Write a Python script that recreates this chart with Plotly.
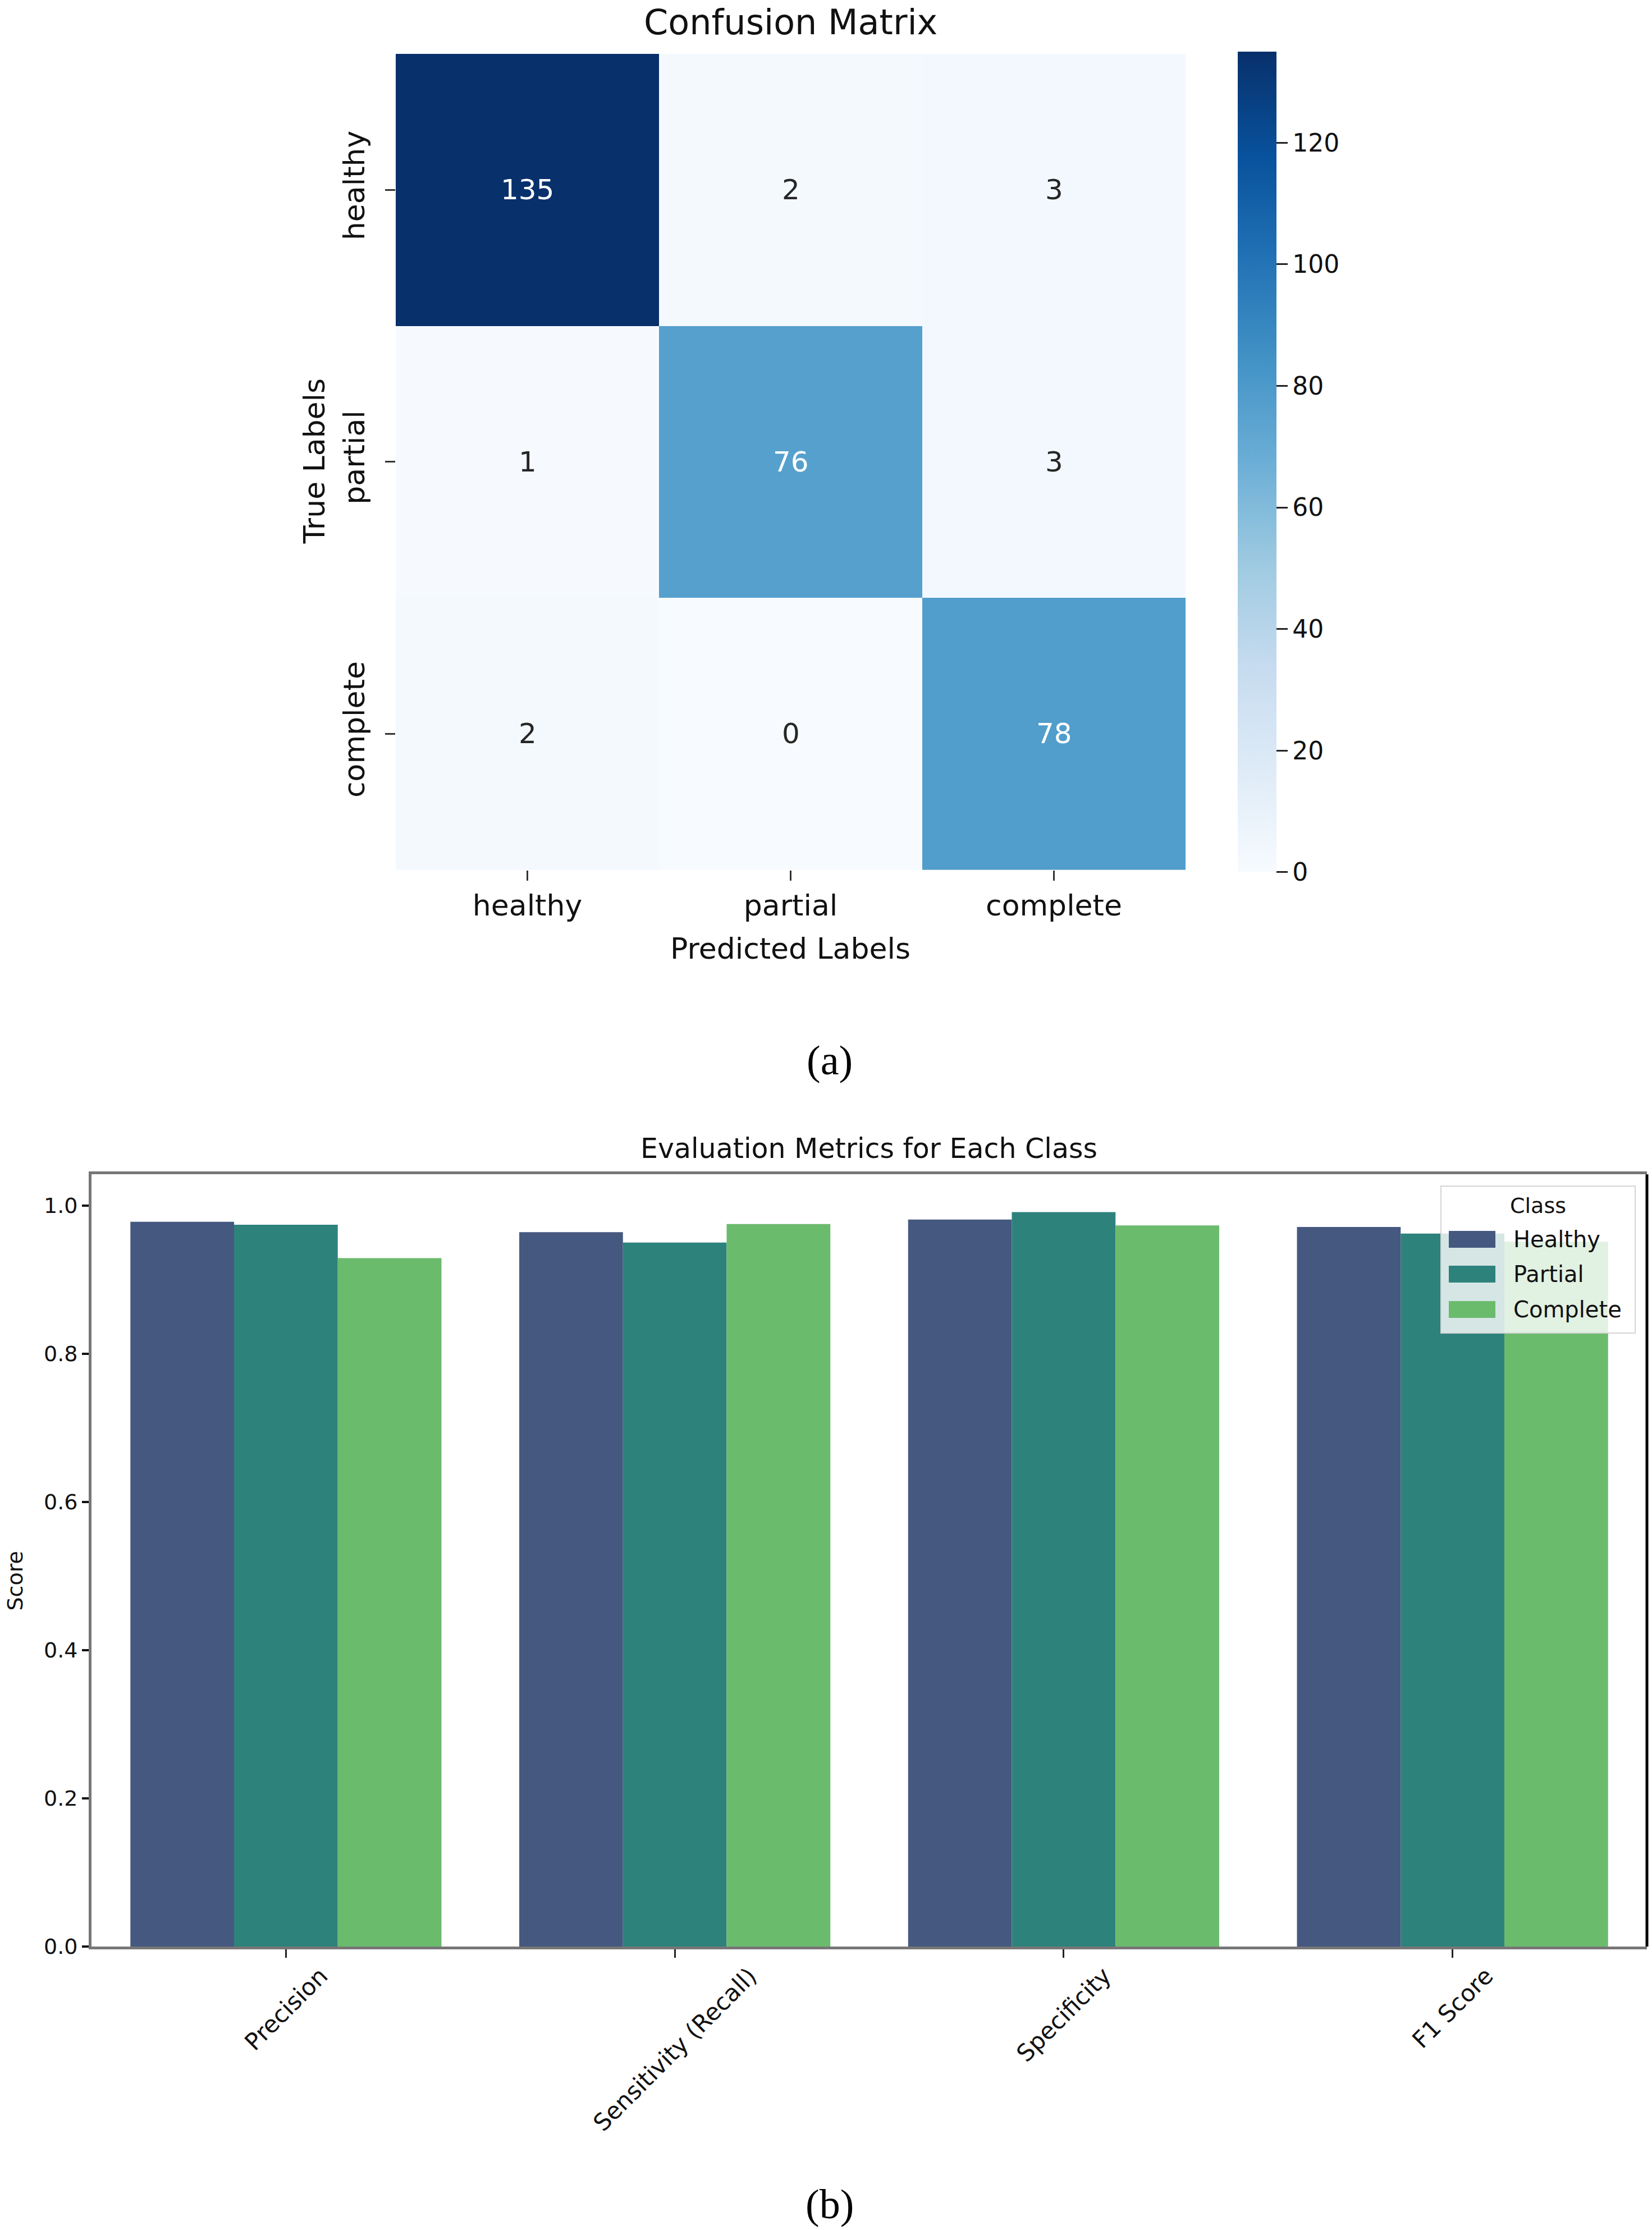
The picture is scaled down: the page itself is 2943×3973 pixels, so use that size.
import plotly.graph_objects as go

# ---------------- data ----------------
cm_labels = ["healthy", "partial", "complete"]
cm_values = [
    [135, 2, 3],
    [1, 76, 3],
    [2, 0, 78],
]
cbar_ticks = [0, 20, 40, 60, 80, 100, 120]

metrics = ["Precision", "Sensitivity (Recall)", "Specificity", "F1 Score"]
class_names = ["Healthy", "Partial", "Complete"]
healthy_scores = [0.978, 0.964, 0.981, 0.971]
partial_scores = [0.974, 0.950, 0.991, 0.962]
complete_scores = [0.929, 0.975, 0.973, 0.951]
score_ticks = [0.0, 0.2, 0.4, 0.6, 0.8, 1.0]

# ---------------- layout helpers ----------------
W, H = 2943, 3973
K = 1.0047  # small vertical calibration
def px(x):
    return x / W
def py(y):
    return 1 - (y * K) / H

FONT = "DejaVu Sans"
bar_colors = ["#455880", "#2e827c", "#6bbb6d"]

fig = go.Figure()

# ---- (a) confusion matrix ----
zmax = 135
fig.add_trace(go.Heatmap(
    z=cm_values, x=cm_labels, y=cm_labels,
    colorscale="Blues", zmin=0, zmax=zmax,
    xaxis="x", yaxis="y", showscale=True, hoverinfo="skip",
    colorbar=dict(
        x=px(2205), xanchor="left", xpad=0,
        y=py(823.5), yanchor="middle", len=1455 * K, lenmode="pixels",
        thickness=69, thicknessmode="pixels", outlinewidth=0,
        tickvals=cbar_ticks, ticks="outside", ticklen=20, tickwidth=3,
        tickcolor="#222", tickfont=dict(family=FONT, size=44, color="#111"),
        ypad=0,
    ),
))

annotations = []
shapes = []
for i, row_lab in enumerate(cm_labels):
    for j, col_lab in enumerate(cm_labels):
        v = cm_values[i][j]
        annotations.append(dict(
            x=col_lab, y=row_lab, xref="x", yref="y", text=str(v),
            showarrow=False,
            font=dict(family=FONT, size=50,
                      color="white" if v > 0.4 * zmax else "#262626"),
        ))

# ---- (b) grouped bars ----
for name, vals, col in zip(class_names,
                           [healthy_scores, partial_scores, complete_scores],
                           bar_colors):
    fig.add_trace(go.Bar(
        x=metrics, y=vals, name=name, marker=dict(color=col, line=dict(width=0)),
        xaxis="x2", yaxis="y2", showlegend=False,
    ))

for m in metrics:
    annotations.append(dict(
        x=m, xref="x2", y=py(3496), yref="paper", text=m, showarrow=False,
        textangle=-45, xanchor="center", yanchor="top",
        font=dict(family=FONT, size=42, color="#111"),
    ))

# ---- legend (drawn, with large swatches like the original) ----
leg_x0, leg_x1, leg_y0, leg_y1 = 2567, 2913, 2115, 2377
shapes.append(dict(type="rect", xref="paper", yref="paper",
                   x0=px(leg_x0), x1=px(leg_x1), y0=py(leg_y1), y1=py(leg_y0),
                   fillcolor="rgba(255,255,255,0.8)",
                   line=dict(color="#d4d4d4", width=2), layer="above"))
annotations.append(dict(x=px(2740), y=py(2150), xref="paper", yref="paper",
                        text="Class", showarrow=False, xanchor="center",
                        yanchor="middle",
                        font=dict(family=FONT, size=38, color="#111")))
entry_y = [2210, 2272, 2335]
for name, col, ey in zip(class_names, bar_colors, entry_y):
    shapes.append(dict(type="rect", xref="paper", yref="paper",
                       x0=px(2581), x1=px(2664), y0=py(ey + 15), y1=py(ey - 15),
                       fillcolor=col, line=dict(width=0), layer="above"))
    annotations.append(dict(x=px(2694), y=py(ey), xref="paper", yref="paper",
                            text=name, showarrow=False, xanchor="left",
                            yanchor="middle",
                            font=dict(family=FONT, size=40, color="#111")))

# right frame edge (black in the original)
shapes.append(dict(type="line", xref="x2 domain", yref="y2 domain",
                   x0=1, x1=1, y0=0, y1=1, line=dict(color="#000", width=5)))

# titles / captions
annotations += [
    dict(x=px(1408), y=py(40), xref="paper", yref="paper", text="Confusion Matrix",
         showarrow=False, xanchor="center", yanchor="middle",
         font=dict(family=FONT, size=62, color="#111")),
    dict(x=px(1408), y=py(1691), xref="paper", yref="paper", text="Predicted Labels",
         showarrow=False, xanchor="center", yanchor="middle",
         font=dict(family=FONT, size=52, color="#111")),
    dict(x=px(560), y=py(823), xref="paper", yref="paper", text="True Labels",
         showarrow=False, xanchor="center", yanchor="middle", textangle=-90,
         font=dict(family=FONT, size=52, color="#111")),
    dict(x=px(1478), y=py(1891), xref="paper", yref="paper", text="(a)",
         showarrow=False, xanchor="center", yanchor="middle",
         font=dict(family="Liberation Serif", size=74, color="#000")),
    dict(x=px(1548), y=py(2048), xref="paper", yref="paper",
         text="Evaluation Metrics for Each Class",
         showarrow=False, xanchor="center", yanchor="middle",
         font=dict(family=FONT, size=49, color="#111")),
    dict(x=px(27), y=py(2819), xref="paper", yref="paper", text="Score",
         showarrow=False, xanchor="center", yanchor="middle", textangle=-90,
         font=dict(family=FONT, size=38, color="#111")),
    dict(x=px(1478), y=py(3930), xref="paper", yref="paper", text="(b)",
         showarrow=False, xanchor="center", yanchor="middle",
         font=dict(family="Liberation Serif", size=74, color="#000")),
]

fig.update_layout(
    width=W, height=H, margin=dict(l=0, r=0, t=0, b=0),
    paper_bgcolor="white", plot_bgcolor="white",
    font=dict(family=FONT, color="#111"),
    annotations=annotations, shapes=shapes, showlegend=False,
    barmode="group", bargap=0.2, bargroupgap=0,
    xaxis=dict(
        domain=[px(705), px(2112)], anchor="y",
        showgrid=False, zeroline=False, showline=False,
        ticks="outside", ticklen=18, tickwidth=3, tickcolor="#333",
        tickfont=dict(family=FONT, size=52, color="#111"),
    ),
    yaxis=dict(
        domain=[py(1551), py(96)], anchor="x", autorange="reversed",
        showgrid=False, zeroline=False, showline=False,
        ticks="outside", ticklen=18, tickwidth=3, tickcolor="#333",
        tickangle=-90, ticklabelstandoff=16,
        tickfont=dict(family=FONT, size=52, color="#111"),
    ),
    xaxis2=dict(
        domain=[px(163), px(2934)], anchor="y2",
        range=[-0.5, 3.5], showticklabels=False,
        showgrid=False, zeroline=False,
        showline=True, linecolor="#777", linewidth=5, mirror=True,
        ticks="outside", ticklen=15, tickwidth=3, tickcolor="#222",
    ),
    yaxis2=dict(
        domain=[py(3471), py(2094)], anchor="x2",
        range=[0, 1.042], tickvals=score_ticks, tickformat=".1f",
        showgrid=False, zeroline=False,
        showline=True, linecolor="#777", linewidth=5,
        ticks="outside", ticklen=12, tickwidth=4, tickcolor="#111",
        tickfont=dict(family=FONT, size=38, color="#111"),
    ),
)

fig.write_html("out.html")
